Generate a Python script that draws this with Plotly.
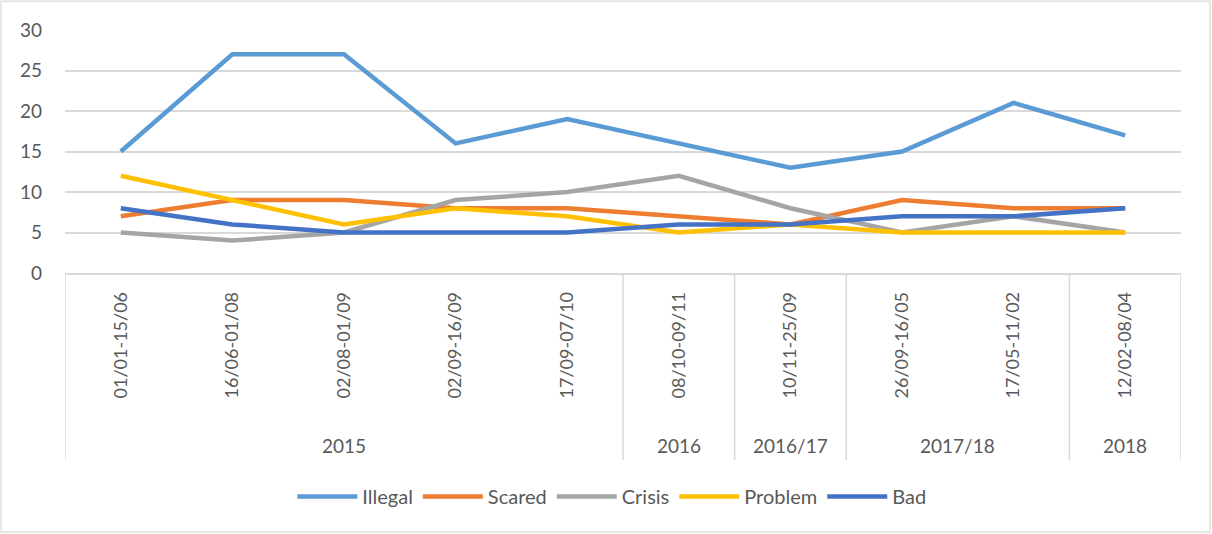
import plotly.graph_objects as go

periods = ["01/01-15/06", "16/06-01/08", "02/08-01/09", "02/09-16/09", "17/09-07/10",
           "08/10-09/11", "10/11-25/09", "26/09-16/05", "17/05-11/02", "12/02-08/04"]
years = ["2015", "2015", "2015", "2015", "2015", "2016", "2016/17", "2017/18", "2017/18", "2018"]

illegal = [15, 27, 27, 16, 19, 16, 13, 15, 21, 17]
scared = [7, 9, 9, 8, 8, 7, 6, 9, 8, 8]
crisis = [5, 4, 5, 9, 10, 12, 8, 5, 7, 5]
problem = [12, 9, 6, 8, 7, 5, 6, 5, 5, 5]
bad = [8, 6, 5, 5, 5, 6, 6, 7, 7, 8]

series = [("Illegal", illegal, "#5B9BD5"), ("Scared", scared, "#ED7D31"),
          ("Crisis", crisis, "#A5A5A5"), ("Problem", problem, "#FFC000"),
          ("Bad", bad, "#4472C4")]

FONT = "Lato"
TXT = "#595959"
GRID = "#d9d9d9"

xs = list(range(len(periods)))
fig = go.Figure()
for name, vals, col in series:
    fig.add_trace(go.Scatter(x=xs, y=vals, name=name, mode="lines",
                             line=dict(color=col, width=4.5)))

# group boundaries and labels
groups = []
start = 0
for i in range(1, len(years) + 1):
    if i == len(years) or years[i] != years[start]:
        groups.append((years[start], start, i - 1))
        start = i

shapes = []
annotations = []
bounds = sorted(set([g[1] - 0.5 for g in groups] + [g[2] + 0.5 for g in groups]))
for b in bounds:
    shapes.append(dict(type="line", xref="x", yref="paper", x0=b, x1=b, y0=0, y1=-0.77,
                       line=dict(color=GRID, width=1.5)))
for name, a, b in groups:
    annotations.append(dict(text=name, xref="x", yref="paper", x=(a + b) / 2, y=-0.708,
                            showarrow=False, font=dict(family=FONT, size=19, color=TXT),
                            xanchor="center", yanchor="middle"))
# chart border
shapes.append(dict(type="rect", xref="paper", yref="paper", x0=-0.0573, x1=1.026,
                   y0=-1.066, y1=1.119, line=dict(color=GRID, width=1.2)))

fig.update_layout(
    width=1212, height=534,
    margin=dict(l=65, r=31, t=30, b=261),
    paper_bgcolor="white", plot_bgcolor="white",
    font=dict(family=FONT, size=19, color=TXT),
    showlegend=True,
    legend=dict(orientation="h", x=0.49, y=-0.92, xanchor="center", yanchor="middle",
                font=dict(family=FONT, size=20, color=TXT), itemwidth=60, tracegroupgap=0),
    shapes=shapes, annotations=annotations,
)
fig.update_xaxes(range=[-0.5, len(periods) - 0.5], tickvals=xs, ticktext=periods,
                 tickangle=-90, showgrid=False, zeroline=False, showline=True,
                 linecolor=GRID, linewidth=1.5, ticks="", ticklabelstandoff=10,
                 tickfont=dict(family=FONT, size=18, color=TXT))
fig.update_yaxes(range=[0, 30], dtick=5, showgrid=True, gridcolor=GRID, gridwidth=1.5,
                 zeroline=False, showline=False, ticks="", ticklabelstandoff=22,
                 tickfont=dict(family=FONT, size=19, color=TXT))

fig.write_html("out.html", config={"displayModeBar": False},
               post_script="document.body.style.margin='0';")
